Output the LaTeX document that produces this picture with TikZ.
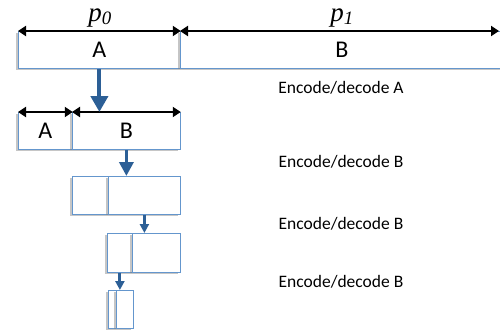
\documentclass[tikz,border=0pt]{standalone}
\usepackage{fontspec}
\setmainfont{Carlito}
\newfontfamily\timesfont{Liberation Serif}
\usetikzlibrary{arrows.meta,shadows}
\definecolor{cellblue}{RGB}{100,150,205}
\definecolor{flowblue}{RGB}{44,95,150}
\begin{document}
\begin{tikzpicture}[x=1pt,y=-1pt,
  cell/.style={draw=cellblue,fill=white,thick,anchor=north west,inner sep=0pt,minimum height=37pt,
    font=\fontsize{24}{24}\selectfont,drop shadow={shadow xshift=-2pt,shadow yshift=-2pt,opacity=0.45}},
  dim/.style={draw=black,line width=2.4pt,{Triangle[width=10pt,length=8pt]}-{Triangle[width=10pt,length=8pt]}},
  bigflow/.style={draw=flowblue,line width=4pt,-{Triangle[width=17pt,length=16pt]}},
  midflow/.style={draw=flowblue,line width=3.5pt,-{Triangle[width=14pt,length=14pt]}},
  flow/.style={draw=flowblue,line width=3pt,-{Triangle[width=9pt,length=9pt]}},
  note/.style={font=\fontsize{17.5}{17.5}\selectfont},
  plabel/.style={anchor=base,font=\fontsize{27}{27}\selectfont\timesfont\itshape}]
\useasboundingbox (0,0) rectangle (500,332);
% row 0
\node[cell,minimum width=162pt] (r0a) at (18,31) {A};
\node[cell,minimum width=330pt] (r0b) at (180,31) {};
\node[font=\fontsize{24}{24}\selectfont] (bt) at (342,49.5) {B};
\coordinate (r0end) at (499,31);
% row 1
\node[cell,minimum width=54pt] (r1a) at (18,112) {A};
\node[cell,minimum width=108pt] (r1b) at (72,112) {B};
% row 2
\node[cell,minimum width=36pt,minimum height=38pt] (r2a) at (72,176) {};
\node[cell,minimum width=72pt,minimum height=38pt] (r2b) at (108,176) {};
% row 3
\node[cell,minimum width=25pt,minimum height=39pt] (r3a) at (107,233) {};
\node[cell,minimum width=48pt,minimum height=39pt] (r3b) at (132,233) {};
% row 4
\node[cell,minimum width=8pt,minimum height=38pt] (r4a) at (108,290) {};
\node[cell,minimum width=17pt,minimum height=38pt] (r4b) at (116,290) {};
% lengths
\draw[dim] (r0a.north west) -- (r0a.north east);
\draw[dim] (r0b.north west) -- (r0end);
\draw[dim] (r1a.north west) -- (r1a.north east);
\draw[dim] (r1b.north west) -- (r1b.north east);
\node[plabel] (p0) at (100,21) {p\textsubscript{0}};
\node[plabel] (p1) at (342,21) {p\textsubscript{1}};
% steps
\draw[bigflow] (r0a.south) -- (r0a.south |- r1b.north);
\draw[midflow] (r1b.south) -- (r1b.south |- r2b.north);
\draw[flow] (r2b.south) -- (r2b.south |- r3b.north);
\draw[flow] (r3a.south) -- (r3a.south |- r4b.north);
\node[note] (e0) at (341,88) {Encode/decode A};
\node[note] (e1) at (341,162) {Encode/decode B};
\node[note] (e2) at (341,224) {Encode/decode B};
\node[note] (e3) at (341,282) {Encode/decode B};
\end{tikzpicture}
\end{document}
